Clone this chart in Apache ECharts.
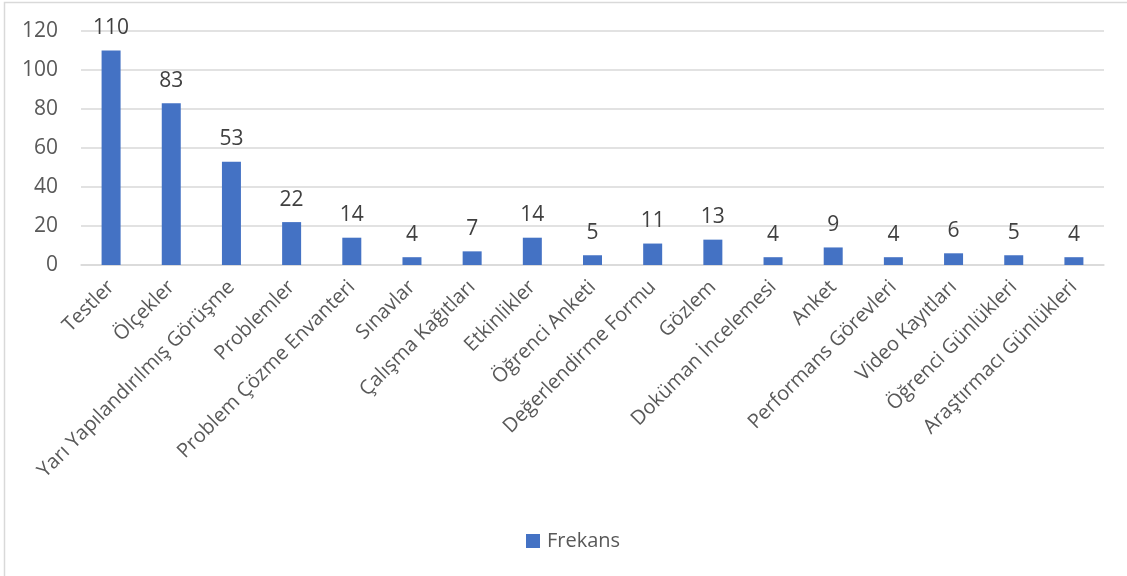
<!DOCTYPE html>
<html>
<head>
<meta charset="utf-8">
<script src="https://cdn.jsdelivr.net/npm/echarts@6/dist/echarts.min.js"></script>
<style>
  html, body { margin: 0; padding: 0; background: #fff; }
  #chart { width: 1127px; height: 576px; }
</style>
</head>
<body>
<div id="chart"></div>
<script>
const categories = [
  'Testler', 'Ölçekler', 'Yarı Yapılandırılmış Görüşme', 'Problemler',
  'Problem Çözme Envanteri', 'Sınavlar', 'Çalışma Kağıtları', 'Etkinlikler',
  'Öğrenci Anketi', 'Değerlendirme Formu', 'Gözlem', 'Doküman İncelemesi',
  'Anket', 'Performans Görevleri', 'Video Kayıtları', 'Öğrenci Günlükleri',
  'Araştırmacı Günlükleri'
];
const frekans = [110, 83, 53, 22, 14, 4, 7, 14, 5, 11, 13, 4, 9, 4, 6, 5, 4];
const seriesName = 'Frekans';
const yTicks = [0, 20, 40, 60, 80, 100, 120];

const FONT = '"Open Sans", "Noto Sans", sans-serif';
const chart = echarts.init(document.getElementById('chart'));
chart.setOption({
  backgroundColor: '#ffffff',
  animation: false,
  graphic: [{
    type: 'rect',
    shape: { x: 4.5, y: 2.5, width: 1200, height: 700 },
    style: { fill: 'none', stroke: '#d9d9d9', lineWidth: 1.5 },
    silent: true
  }],
  grid: { left: 81, right: 23, top: 31, bottom: 311, containLabel: false },
  legend: {
    data: [seriesName],
    bottom: 20,
    left: 521,
    itemWidth: 14,
    itemHeight: 14,
    icon: 'rect',
    itemGap: 6,
    textStyle: { fontFamily: FONT, fontSize: 20, color: '#595959', padding: [0, 0, 0, 2] }
  },
  xAxis: {
    type: 'category',
    data: categories,
    axisLine: { show: true, lineStyle: { color: '#d9d9d9', width: 1.5 } },
    axisTick: { show: false },
    axisLabel: {
      rotate: 45,
      interval: 0,
      margin: 19,
      fontFamily: FONT,
      fontSize: 20,
      color: '#595959'
    }
  },
  yAxis: {
    type: 'value',
    min: yTicks[0],
    max: yTicks[yTicks.length - 1],
    interval: yTicks[1] - yTicks[0],
    axisLine: { show: false },
    axisTick: { show: false },
    splitLine: { lineStyle: { color: '#d9d9d9', width: 1.5 } },
    axisLabel: {
      margin: 23,
      fontFamily: FONT,
      fontSize: 21,
      color: '#595959'
    }
  },
  series: [{
    name: seriesName,
    type: 'bar',
    data: frekans,
    barWidth: 19,
    itemStyle: { color: '#4472c4' },
    label: {
      show: true,
      position: 'top',
      distance: 12,
      fontFamily: FONT,
      fontSize: 21,
      color: '#404040'
    }
  }]
});
</script>
</body>
</html>
